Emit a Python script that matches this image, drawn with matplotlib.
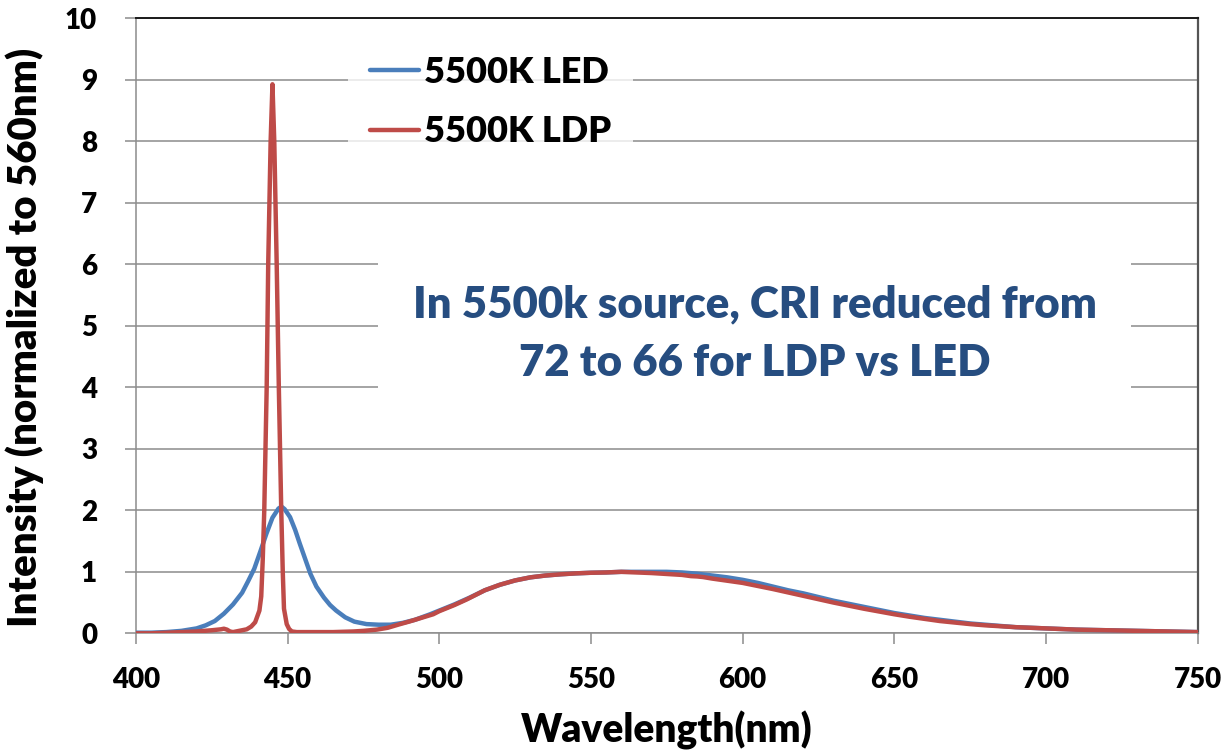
import matplotlib
matplotlib.use("Agg")
import matplotlib.pyplot as plt
from matplotlib.patches import Rectangle

# ---- data ----
led_wl = [400, 405, 410, 415, 420, 423, 426, 429, 432, 435, 437, 439, 441, 443, 445, 447, 448,
          449, 450.8, 452.5, 454, 456, 457.5, 459.5, 462, 464, 466, 469, 472, 476, 480, 484, 488,
          492, 497, 500, 505, 510, 515, 520, 525, 530, 535, 540, 545, 550, 555, 560, 565, 570,
          575, 580, 585, 590, 595, 600, 605, 610, 615, 620, 625, 630, 635, 640, 645, 650, 655,
          660, 665, 670, 675, 680, 685, 690, 695, 700, 710, 720, 730, 740, 750]
led_int = [0.01, 0.01, 0.02, 0.04, 0.08, 0.13, 0.20, 0.32, 0.47, 0.66, 0.85, 1.05, 1.33, 1.62,
           1.88, 2.03, 2.06, 2.02, 1.89, 1.68, 1.46, 1.18, 0.97, 0.76, 0.58, 0.46, 0.37, 0.26,
           0.19, 0.15, 0.14, 0.14, 0.17, 0.22, 0.31, 0.37, 0.47, 0.58, 0.70, 0.79, 0.86, 0.91,
           0.94, 0.96, 0.975, 0.985, 0.99, 1.0, 1.0, 1.0, 1.0, 0.99, 0.97, 0.94, 0.91, 0.87,
           0.82, 0.76, 0.70, 0.65, 0.59, 0.53, 0.48, 0.43, 0.38, 0.33, 0.29, 0.25, 0.22, 0.19,
           0.16, 0.14, 0.12, 0.10, 0.09, 0.08, 0.06, 0.05, 0.04, 0.03, 0.02]

ldp_wl = [400, 405, 410, 415, 420, 425, 428, 429, 430, 431, 432, 434, 436.5, 438, 439.3, 440.7,
          441.3, 441.8, 442.3, 443.1, 443.6, 444.4, 445.0, 445.6, 446.4, 447.1, 447.9, 448.4,
          448.8, 449.7, 450.5, 451.4, 453, 455, 460, 465, 471.7, 475, 479.4, 483, 487.1, 490,
          494, 498, 500, 505, 509, 515, 520, 525, 530, 535, 540, 545, 550, 555, 560, 565, 570,
          575, 580, 583, 585, 587, 590, 595, 600, 605, 610, 615, 620, 625, 630, 635, 640, 645,
          650, 655, 660, 665, 670, 675, 680, 690, 700, 710, 720, 730, 740, 750]
ldp_int = [0.0, 0.0, 0.01, 0.02, 0.03, 0.05, 0.065, 0.075, 0.06, 0.03, 0.02, 0.04, 0.065, 0.11,
           0.18, 0.37, 0.6, 1.2, 2.0, 4.0, 6.0, 8.0, 8.93, 8.0, 6.0, 4.0, 2.0, 1.0, 0.4, 0.15,
           0.07, 0.03, 0.02, 0.02, 0.02, 0.02, 0.03, 0.04, 0.06, 0.09, 0.15, 0.19, 0.25, 0.31,
           0.36, 0.46, 0.55, 0.70, 0.79, 0.86, 0.91, 0.94, 0.96, 0.975, 0.985, 0.99, 1.0, 0.99,
           0.98, 0.965, 0.95, 0.93, 0.925, 0.915, 0.89, 0.855, 0.82, 0.77, 0.72, 0.665, 0.61,
           0.555, 0.50, 0.45, 0.40, 0.355, 0.31, 0.27, 0.235, 0.20, 0.175, 0.15, 0.13, 0.10,
           0.08, 0.06, 0.05, 0.04, 0.03, 0.02]

series_labels = ["5500K LED", "5500K LDP"]
x_ticks = [400, 450, 500, 550, 600, 650, 700, 750]
y_ticks = list(range(0, 11))
x_label = "Wavelength(nm)"
y_label = "Intensity (normalized to 560nm)"
note = "In 5500k source, CRI reduced from\n72 to 66 for LDP vs LED"

# ---- style ----
FONT = ["Lato", "DejaVu Sans"]
plt.rcParams["font.family"] = FONT
W = "heavy"
plt.rcParams["font.weight"] = W
BLUE = "#4A7EBB"
RED = "#BE4B48"
GRID = "#8C8C8C"

fig = plt.figure(figsize=(12.26, 7.51), dpi=100)
ax = fig.add_axes([0.1109, 0.1567, 0.8659, 0.8187])

ax.plot(led_wl, led_int, color=BLUE, lw=3.2, label=series_labels[0], zorder=3,
        solid_capstyle="round", solid_joinstyle="round")
ax.plot(ldp_wl, ldp_int, color=RED, lw=3.2, label=series_labels[1], zorder=4,
        solid_capstyle="round", solid_joinstyle="round")

ax.set_xlim(400, 750)
ax.set_ylim(0, 10)
ax.set_xticks(x_ticks)
ax.set_yticks(y_ticks)
ax.yaxis.grid(True, color=GRID, lw=1.1, zorder=0)
ax.set_axisbelow(True)

ax.tick_params(axis="both", which="major", direction="out", length=8, width=1.1,
               color=GRID, labelsize=20)
ax.tick_params(axis="y", pad=20)
ax.tick_params(axis="x", pad=16)
for lab in ax.get_xticklabels() + ax.get_yticklabels():
    lab.set_fontweight(W)

ax.spines["left"].set_color(GRID)
ax.spines["bottom"].set_color(GRID)
ax.spines["left"].set_linewidth(1.1)
ax.spines["bottom"].set_linewidth(1.1)
ax.spines["top"].set_color("#1a1a1a")
ax.spines["top"].set_linewidth(1.4)
ax.spines["right"].set_color("#555555")
ax.spines["right"].set_linewidth(1.6)

ax.set_xlabel(x_label, fontsize=28, fontweight=W, labelpad=13)
ax.set_ylabel(y_label, fontsize=29, fontweight=W)
ax.yaxis.set_label_coords(-0.087, 0.482)

# legend
leg = ax.legend(loc="upper left", bbox_to_anchor=(0.2, 0.975), fontsize=26,
                frameon=True, handlelength=1.35, handletextpad=0.15, borderpad=0.6,
                labelspacing=0.74, fancybox=False, borderaxespad=0)
leg.get_frame().set_facecolor("white")
leg.get_frame().set_edgecolor("none")
for t in leg.get_texts():
    t.set_fontweight(W)
for h in leg.get_lines():
    h.set_linewidth(3.2)

# annotation with white background covering gridlines
ax.add_patch(Rectangle((0.228, 0.38), 0.709, 0.245, transform=ax.transAxes,
                       facecolor="white", edgecolor="none", zorder=1))
ax.text(0.583, 0.487, note, transform=ax.transAxes, ha="center", va="center",
        fontsize=31.5, fontweight=W, color="#264D80", linespacing=1.55, zorder=5)

fig.savefig("out.png", dpi=100)
